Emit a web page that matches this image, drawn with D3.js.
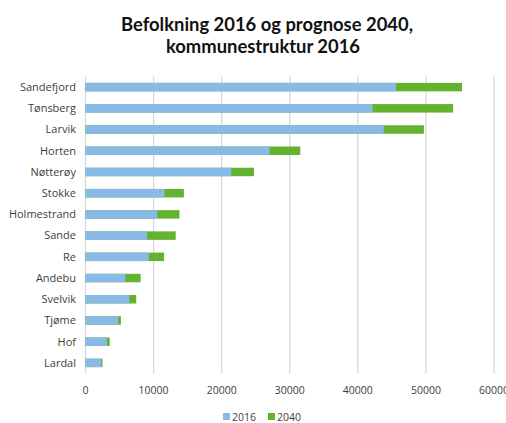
<!DOCTYPE html>
<html>
<head>
<meta charset="utf-8">
<script src="https://cdn.jsdelivr.net/npm/d3@7"></script>
<style>
  html, body { margin: 0; padding: 0; background: #fff; }
  svg { display: block; }
  text { font-family: "Open Sans", Lato, sans-serif; fill: #404040; }
</style>
</head>
<body>
<svg id="chart" width="506" height="423"></svg>
<script>
// Municipalities (Vestfold), population 2016 and projection for 2040
const kommuner = ["Sandefjord", "Tønsberg", "Larvik", "Horten", "Nøtterøy", "Stokke",
  "Holmestrand", "Sande", "Re", "Andebu", "Svelvik", "Tjøme", "Hof", "Lardal"];
const bef2016 = [45600, 42150, 43800, 27050, 21400, 11600, 10550, 9050, 9300, 5850, 6450, 4800, 3150, 2300];
const prog2040 = [55300, 54000, 49700, 31550, 24750, 14450, 13800, 13250, 11550, 8100, 7450, 5200, 3550, 2500];
const xTicks = [0, 10000, 20000, 30000, 40000, 50000, 60000];
const seriesNames = ["2016", "2040"];
const seriesColors = ["#89bae6", "#64b22f"];

const svg = d3.select("#chart");
const plotLeft = 85.5, plotRight = 494, plotTop = 76.5, plotBottom = 373.5;

const x = d3.scaleLinear().domain([0, 60000]).range([plotLeft, plotRight]);
const y = d3.scaleBand().domain(kommuner).range([plotTop, plotBottom]).paddingInner(0.6).paddingOuter(0.3);

// Title
const title = svg.append("text")
  .attr("text-anchor", "middle")
  .style("font-family", "Lato, sans-serif")
  .style("font-weight", "bold")
  .style("font-size", "18.4px")
  .style("fill", "#111");
title.append("tspan").attr("x", 267).attr("y", 31).text("Befolkning 2016 og prognose 2040,");
title.append("tspan").attr("x", 263).attr("y", 53).text("kommunestruktur 2016");

// Vertical gridlines
svg.append("g").selectAll("line").data(xTicks).join("line")
  .attr("x1", d => x(d)).attr("x2", d => x(d))
  .attr("y1", plotTop).attr("y2", plotBottom)
  .attr("stroke", "#d9d9d9").attr("stroke-width", 1.3);

// 2040 projection bars (behind)
svg.append("g").selectAll("rect").data(kommuner).join("rect")
  .attr("x", x(0))
  .attr("y", d => y(d))
  .attr("width", (d, i) => x(prog2040[i]) - x(0))
  .attr("height", y.bandwidth())
  .attr("fill", seriesColors[1]);

// 2016 bars (in front)
svg.append("g").selectAll("rect").data(kommuner).join("rect")
  .attr("x", x(0))
  .attr("y", d => y(d))
  .attr("width", (d, i) => x(bef2016[i]) - x(0))
  .attr("height", y.bandwidth())
  .attr("fill", seriesColors[0]);

// Category labels
svg.append("g").selectAll("text").data(kommuner).join("text")
  .attr("x", 76)
  .attr("y", d => y(d) + y.bandwidth() / 2)
  .attr("dy", "0.35em")
  .attr("text-anchor", "end")
  .style("font-size", "11px")
  .text(d => d);

// X tick labels
svg.append("g").selectAll("text").data(xTicks).join("text")
  .attr("x", d => x(d))
  .attr("y", 394)
  .attr("text-anchor", "middle")
  .style("font-size", "10.5px")
  .text(d => d);

// Legend
const legend = svg.append("g");
const legendX = [223, 268];
seriesNames.forEach((name, i) => {
  legend.append("rect")
    .attr("x", legendX[i]).attr("y", 413)
    .attr("width", 7).attr("height", 7)
    .attr("fill", seriesColors[i]);
  legend.append("text")
    .attr("x", legendX[i] + 9).attr("y", 420.5)
    .style("font-size", "10.5px")
    .text(name);
});
</script>
</body>
</html>
